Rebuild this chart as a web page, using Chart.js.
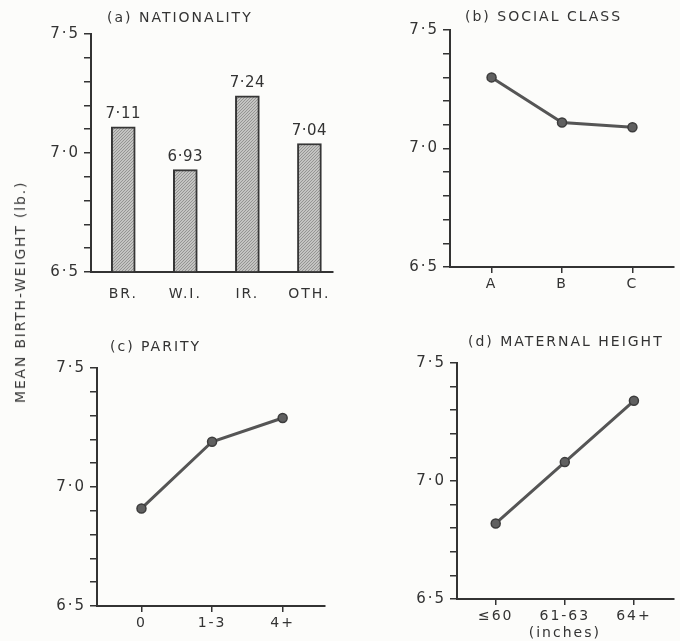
<!DOCTYPE html>
<html>
<head>
<meta charset="utf-8">
<script src="https://cdn.jsdelivr.net/npm/chart.js@4"></script>
<style>
  body { margin: 0; background: #fcfcfa; }
  #page { position: relative; width: 680px; height: 641px; overflow: hidden; background: #fcfcfa; }
  canvas { position: absolute; }
  #ylab {
    position: absolute; left: 20px; top: 292px;
    transform: translate(-50%, -50%) rotate(-90deg);
    font: 14px "DejaVu Sans"; letter-spacing: 1.8px; color: #3a3a3a; white-space: nowrap;
  }
</style>
</head>
<body>
<div id="page">
  <canvas id="ca" width="340" height="320" style="left:0;top:0"></canvas>
  <canvas id="cb" width="340" height="320" style="left:340px;top:0"></canvas>
  <canvas id="cc" width="340" height="321" style="left:0;top:320px"></canvas>
  <canvas id="cd" width="340" height="321" style="left:340px;top:320px"></canvas>
  <div id="ylab">MEAN BIRTH-WEIGHT (lb.)</div>
</div>
<script>
// values
const nationality = ['BR.', 'W.I.', 'IR.', 'OTH.'];
const nationalityWeight = [7.11, 6.93, 7.24, 7.04];
const socialClass = ['A', 'B', 'C'];
const socialClassWeight = [7.30, 7.11, 7.09];
const parity = ['0', '1-3', '4+'];
const parityWeight = [6.91, 7.19, 7.29];
const heightGroups = ['≤60', ['61-63', '(inches)'], '64+'];
const heightWeight = [6.82, 7.08, 7.34];
const yLabelled = [6.5, 7.0, 7.5];

const ink = '#333';
const lineInk = '#555';
const tickFont = {family: 'DejaVu Sans', size: 15};
Chart.defaults.font.family = 'DejaVu Sans';
Chart.defaults.color = ink;

const dot = (v, d) => v.toFixed(d).replace('.', '·');

function hatch() {
  const c = document.createElement('canvas');
  c.width = c.height = 3;
  const g = c.getContext('2d');
  g.fillStyle = '#c4c4c2';
  g.fillRect(0, 0, 3, 3);
  g.strokeStyle = '#959593';
  g.lineWidth = 1;
  g.beginPath(); g.moveTo(0, 3); g.lineTo(3, 0); g.stroke();
  return g.createPattern(c, 'repeat');
}

const spacing = {
  id: 'spacing',
  beforeDraw(chart) { chart.ctx.letterSpacing = '2px'; }
};

const panelTitle = {
  id: 'panelTitle',
  afterDraw(chart, args, opts) {
    const ctx = chart.ctx;
    ctx.save();
    ctx.font = '14px "DejaVu Sans"';
    ctx.letterSpacing = '2px';
    ctx.fillStyle = ink;
    ctx.textBaseline = 'middle';
    ctx.fillText(opts.text, opts.x, opts.y);
    ctx.restore();
  }
};

const barValues = {
  id: 'barValues',
  afterDatasetsDraw(chart) {
    const ctx = chart.ctx;
    ctx.save();
    ctx.font = '15px "DejaVu Sans"';
    ctx.letterSpacing = '0.5px';
    ctx.fillStyle = ink;
    ctx.textAlign = 'center';
    ctx.textBaseline = 'bottom';
    chart.getDatasetMeta(0).data.forEach((bar, i) => {
      ctx.fillText(dot(nationalityWeight[i], 2), bar.x, bar.y - 5);
    });
    ctx.restore();
  }
};

function yScale(width) {
  return {
    min: 6.5,
    max: 7.5,
    afterFit: s => { s.width = width; },
    border: {color: ink, width: 2},
    grid: {drawOnChartArea: false, tickLength: 7, color: ink, lineWidth: 1.5},
    ticks: {
      stepSize: 0.1, padding: 4, color: ink, font: tickFont, autoSkip: false,
      callback: v => yLabelled.some(t => Math.abs(t - v) < 1e-6) ? dot(v, 1) : ''
    }
  };
}

function xScale(labels, min, max, height, marks) {
  return {
    type: 'linear',
    offset: false,
    min: min,
    max: max,
    afterFit: s => { s.height = height; },
    afterBuildTicks: s => { s.ticks = labels.map((_, i) => ({value: i})); },
    border: {color: ink, width: 2},
    grid: {display: marks, drawOnChartArea: false, tickLength: 6, color: ink, lineWidth: 1.5},
    ticks: {
      padding: marks ? 3 : 8, color: ink, font: {family: 'DejaVu Sans', size: 14},
      autoSkip: false, maxRotation: 0,
      callback: v => labels[v]
    }
  };
}

function lineChart(id, labels, values, title, pad, yWidth, xRange, xHeight) {
  return new Chart(document.getElementById(id), {
    type: 'line',
    data: {
      datasets: [{
        data: values.map((y, x) => ({x, y})),
        borderColor: lineInk,
        borderWidth: 3,
        pointRadius: 4.5,
        pointBackgroundColor: '#606060',
        pointBorderColor: '#3c3c3c',
        pointBorderWidth: 1.5
      }]
    },
    options: {
      responsive: false,
      animation: false,
      layout: {padding: pad},
      plugins: {legend: {display: false}, tooltip: {enabled: false}, panelTitle: title},
      scales: {
        x: xScale(labels, xRange[0], xRange[1], xHeight, true),
        y: yScale(yWidth)
      }
    },
    plugins: [spacing, panelTitle]
  });
}

new Chart(document.getElementById('ca'), {
  type: 'bar',
  data: {
    datasets: [{
      data: nationalityWeight.map((y, x) => ({x, y})),
      base: 6.5,
      backgroundColor: hatch(),
      borderColor: '#363636',
      borderWidth: 2,
      barThickness: 24
    }]
  },
  options: {
    responsive: false,
    animation: false,
    layout: {padding: {top: 34, right: 7, left: 0, bottom: 0}},
    plugins: {
      legend: {display: false},
      tooltip: {enabled: false},
      panelTitle: {text: '(a) NATIONALITY', x: 107, y: 18}
    },
    scales: {
      x: xScale(nationality, -0.52, 3.38, 48, false),
      y: yScale(91)
    }
  },
  plugins: [spacing, panelTitle, barValues]
});

lineChart('cb', socialClass, socialClassWeight,
  {text: '(b) SOCIAL CLASS', x: 125, y: 17},
  {top: 30, right: 3, left: 0, bottom: 0}, 110, [-0.59, 2.59], 53);

lineChart('cc', parity, parityWeight,
  {text: '(c) PARITY', x: 110, y: 27},
  {top: 48, right: 15, left: 0, bottom: 0}, 97, [-0.63, 2.6], 35);

lineChart('cd', heightGroups, heightWeight,
  {text: '(d) MATERNAL HEIGHT', x: 128, y: 22},
  {top: 43, right: 0, left: 0, bottom: 0}, 117, [-0.56, 2.58], 42);
</script>
</body>
</html>
